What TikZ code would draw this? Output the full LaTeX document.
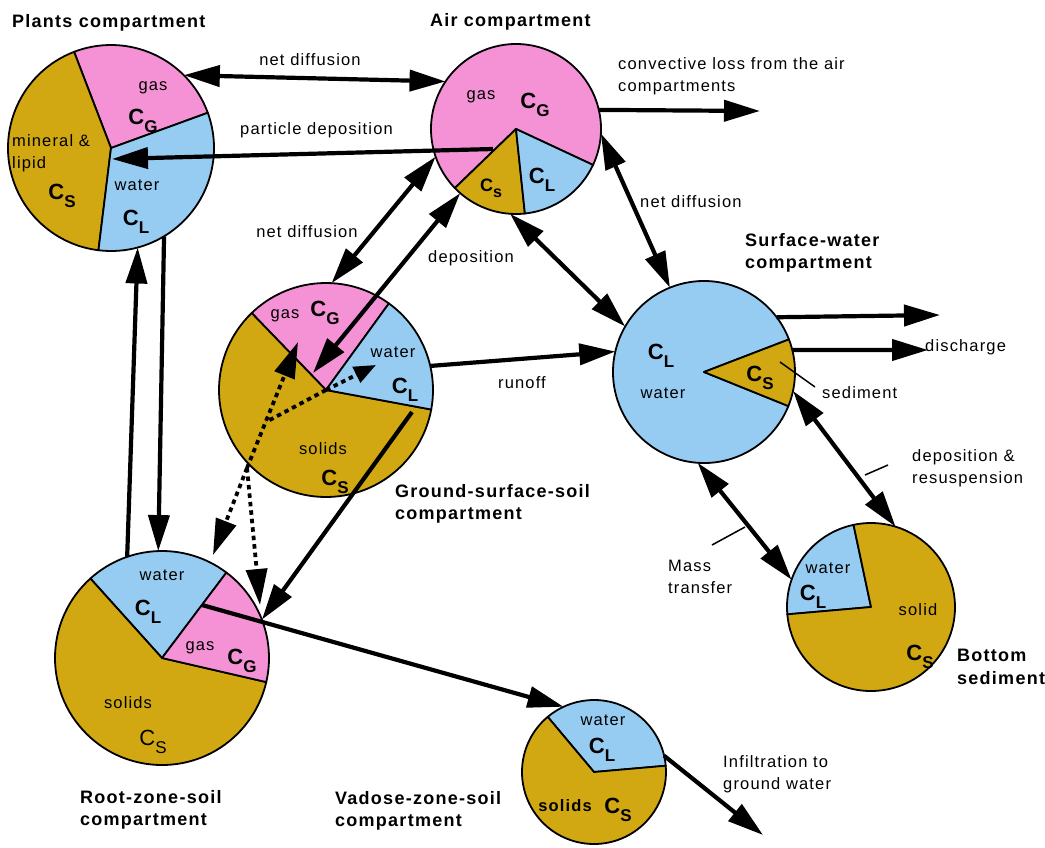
\documentclass[tikz,border=0pt]{standalone}
\usepackage{fontspec}
\setmainfont{Liberation Sans}[LetterSpace=7]
\usetikzlibrary{arrows.meta}

\definecolor{gaspink}{RGB}{244,146,213}
\definecolor{waterblue}{RGB}{150,204,241}
\definecolor{solidgold}{RGB}{209,168,18}

% sector of a compartment pie: centre, radius, start angle, end angle, colour
\newcommand\drawsector[5]{%
  \filldraw[fill=#5, draw=black, line width=1.8pt, line join=round]
    (#1) -- +(#3:#2) arc[start angle=#3, end angle=#4, radius=#2] -- cycle;}

% concentration symbols
\newcommand\conc[1]{{\fontsize{22}{22}\selectfont\bfseries C\raisebox{-8pt}{\fontsize{17}{17}\selectfont #1}}}
\newcommand\concr[1]{{\fontsize{22}{22}\selectfont C\raisebox{-8pt}{\fontsize{17}{17}\selectfont #1}}}
\newcommand\concs[1]{{\fontsize{18}{18}\selectfont\bfseries C\raisebox{-6pt}{\fontsize{16}{16}\selectfont #1}}}

\begin{document}
\begin{tikzpicture}[x=1pt, y=1pt,
  >={Triangle[length=36pt,width=21pt]},
  pie/.style={circle, inner sep=0pt, outer sep=0pt},
  flow/.style={line width=4.2pt, ->},
  both/.style={line width=4.2pt, <->},
  dots/.style={line width=3.8pt, dash pattern=on 4.5pt off 4pt},
  shorthead/.style={-{Triangle[length=22pt,width=17pt]}},
  leader/.style={line width=1.5pt},
  lbl/.style={font=\fontsize{16.5}{22}\selectfont, inner sep=0pt, align=left},
  ttl/.style={font=\fontsize{18}{22.5}\selectfont\bfseries, inner sep=0pt, align=left},
  cval/.style={inner sep=0pt}]

\useasboundingbox (0,0) rectangle (1045,-847);

% ---------- compartment pies ----------
% Plants
\coordinate (pc) at (111,-148);
\node[pie, minimum size=206pt] (plants) at (pc) {};
\drawsector{pc}{103}{20}{111}{gaspink}
\drawsector{pc}{103}{111}{263}{solidgold}
\drawsector{pc}{103}{263}{380}{waterblue}

% Air
\coordinate (ac) at (516,-129);
\node[pie, minimum size=170pt] (air) at (ac) {};
\drawsector{ac}{85}{-25}{224}{gaspink}
\drawsector{ac}{85}{224}{276}{solidgold}
\drawsector{ac}{85}{276}{335}{waterblue}

% Ground-surface soil
\coordinate (gc) at (326,-390);
\node[pie, minimum size=214pt] (ground) at (gc) {};
\drawsector{gc}{107}{54}{134}{gaspink}
\drawsector{gc}{107}{134}{349.5}{solidgold}
\drawsector{gc}{107}{-10.5}{54}{waterblue}

% Surface water
\coordinate (wc) at (704,-372);
\node[pie, minimum size=182pt] (surf) at (wc) {};
\drawsector{wc}{91}{21}{338}{waterblue}
\drawsector{wc}{91}{-22}{21}{solidgold}

% Root-zone soil
\coordinate (rc) at (162,-658);
\node[pie, minimum size=214pt] (root) at (rc) {};
\drawsector{rc}{107}{53}{132}{waterblue}
\drawsector{rc}{107}{132}{347}{solidgold}
\drawsector{rc}{107}{-13}{53}{gaspink}

% Vadose-zone soil
\coordinate (vc) at (594,-772);
\node[pie, minimum size=144pt] (vadose) at (vc) {};
\drawsector{vc}{72}{5}{130}{waterblue}
\drawsector{vc}{72}{130}{365}{solidgold}

% Bottom sediment
\coordinate (bc) at (871,-607);
\node[pie, minimum size=168pt] (bottom) at (bc) {};
\drawsector{bc}{84}{102}{185}{waterblue}
\drawsector{bc}{84}{185}{462}{solidgold}

% ---------- free ends of connectors ----------
\coordinate (pdS)  at (493,-149);
\coordinate (pdE)  at (112,-159);
\coordinate (convE) at (760,-111);
\coordinate (depE) at (313,-373);
\coordinate (out1) at (940,-315);
\coordinate (out2) at (928,-350);
\coordinate (gsW)  at (412,-412);
\coordinate (rzW)  at (202,-605);
\coordinate (infE) at (763,-835);
\coordinate (dJ)   at (266,-422);
\coordinate (dS)   at (247,-468);
\coordinate (dT1)  at (376,-365);
\coordinate (dT2)  at (298,-342);
\coordinate (dT3)  at (213,-555);
\coordinate (dT4)  at (260,-605);
\coordinate (sedA) at (780,-362);
\coordinate (sedB) at (815,-387);
\coordinate (drA)  at (865,-475);
\coordinate (drB)  at (888,-465);
\coordinate (mtA)  at (712,-545);
\coordinate (mtB)  at (745,-527);

% ---------- transfers ----------
\draw[both] (plants.45) -- (air.146);
\draw[flow] (pdS) -- (pdE);
\draw[flow] (air.13) -- (convE);
\draw[both] (air.-3) -- (surf.112);
\draw[both] (air.199) -- (ground.87);
\draw[both] (air.229) -- (depE);
\draw[both] (air.266) -- (surf.150);
\draw[flow] (ground.13) -- (surf.167);
\draw[flow] (surf.37) -- (out1);
\draw[flow] (surf.14) -- (out2);
\draw[both] (surf.-12) -- (bottom.73);
\draw[both] (surf.266) -- (bottom.161);
\draw[flow] (root.109) -- (plants.-75);
\draw[flow] (plants.-59) -- (root.92);
\draw[flow] (gsW) -- (root.21);
\draw[flow] (rzW) -- (vadose.115);
\draw[flow] (vadose.13) -- (infE);

% dotted internal exchanges of the ground-surface soil
\draw[dots] (gc) -- (dJ);
\draw[dots,shorthead] (gc) -- (dT1);
\draw[dots,->] (dS) -- (dT2);
\draw[dots,->] (dS) -- (dT3);
\draw[dots,->] (dS) -- (dT4);

% label leaders
\draw[leader] (sedA) -- (sedB);
\draw[leader] (drA) -- (drB);
\draw[leader] (mtA) -- (mtB);

% ---------- titles ----------
\node[ttl, anchor=west] (tPlants) at (12,-23) {Plants compartment};
\node[ttl, anchor=west] (tAir) at (430,-22) {Air compartment};
\node[ttl, anchor=west] (tSurf) at (745,-253) {Surface-water\\compartment};
\node[ttl, anchor=west] (tGround) at (395,-504) {Ground-surface-soil\\compartment};
\node[ttl, anchor=west] (tRoot) at (80,-810) {Root-zone-soil\\compartment};
\node[ttl, anchor=west] (tVad) at (335,-811) {Vadose-zone-soil\\compartment};
\node[ttl, anchor=west] (tBot) at (957,-667) {Bottom\\sediment};

% ---------- process labels ----------
\node[lbl] (lND1) at (310,-60) {net diffusion};
\node[lbl, anchor=west] (lPD) at (240,-130) {particle deposition};
\node[lbl, anchor=west] (lConv) at (618,-76) {convective loss from the air\\compartments};
\node[lbl, anchor=west] (lND2) at (640,-202) {net diffusion};
\node[lbl] (lND3) at (307,-232) {net diffusion};
\node[lbl] (lDep) at (471,-258) {deposition};
\node[lbl] (lRun) at (522,-383) {runoff};
\node[lbl, anchor=west] (lDis) at (925,-347) {discharge};
\node[lbl, anchor=west] (lSed) at (822,-393) {sediment};
\node[lbl, anchor=west] (lDR) at (912,-468) {deposition \&\\resuspension};
\node[lbl, anchor=west] (lMT) at (668,-577) {Mass\\transfer};
\node[lbl, anchor=west] (lInf) at (723,-774) {Infiltration to\\ground water};

% ---------- phase labels ----------
% plants
\node[lbl] (pGas) at (153,-88) {gas};
\node[cval] (pCG) at (143,-121) {\conc{G}};
\node[lbl, anchor=west] (pMin) at (12,-153) {mineral \&\\lipid};
\node[cval] (pCS) at (62,-196) {\conc{S}};
\node[lbl] (pWat) at (137,-185) {water};
\node[cval] (pCL) at (136,-222) {\conc{L}};
% air
\node[lbl] (aGas) at (481,-97) {gas};
\node[cval] (aCG) at (535,-105) {\conc{G}};
\node[cval] (aCS) at (491,-188) {\concs{s}};
\node[cval] (aCL) at (542,-180) {\conc{L}};
% ground-surface soil
\node[lbl] (gGas) at (285,-316) {gas};
\node[cval] (gCG) at (325,-313) {\conc{G}};
\node[lbl] (gWat) at (393,-352) {water};
\node[cval] (gCL) at (405,-390) {\conc{L}};
\node[lbl] (gSol) at (323,-449) {solids};
\node[cval] (gCS) at (335,-482) {\conc{S}};
% surface water
\node[cval] (wCL) at (661,-356) {\conc{L}};
\node[lbl] (wWat) at (663,-393) {water};
\node[cval] (wCS) at (760,-378) {\conc{S}};
% root zone
\node[lbl] (rWat) at (162,-575) {water};
\node[cval] (rCL) at (148,-612) {\conc{L}};
\node[lbl] (rGas) at (200,-648) {gas};
\node[cval] (rCG) at (242,-661) {\conc{G}};
\node[lbl] (rSol) at (128,-703) {solids};
\node[cval] (rCS) at (153,-742) {\concr{S}};
% vadose zone
\node[lbl] (vWat) at (603,-720) {water};
\node[cval] (vCL) at (602,-750) {\conc{L}};
\node[lbl, font=\fontsize{16.5}{22}\selectfont\bfseries] (vSol) at (565,-806) {solids};
\node[cval] (vCS) at (618,-810) {\conc{S}};
% bottom sediment
\node[lbl] (bWat) at (828,-568) {water};
\node[cval] (bCL) at (813,-597) {\conc{L}};
\node[lbl] (bSol) at (918,-610) {solid};
\node[cval] (bCS) at (920,-657) {\conc{S}};

\end{tikzpicture}
\end{document}
